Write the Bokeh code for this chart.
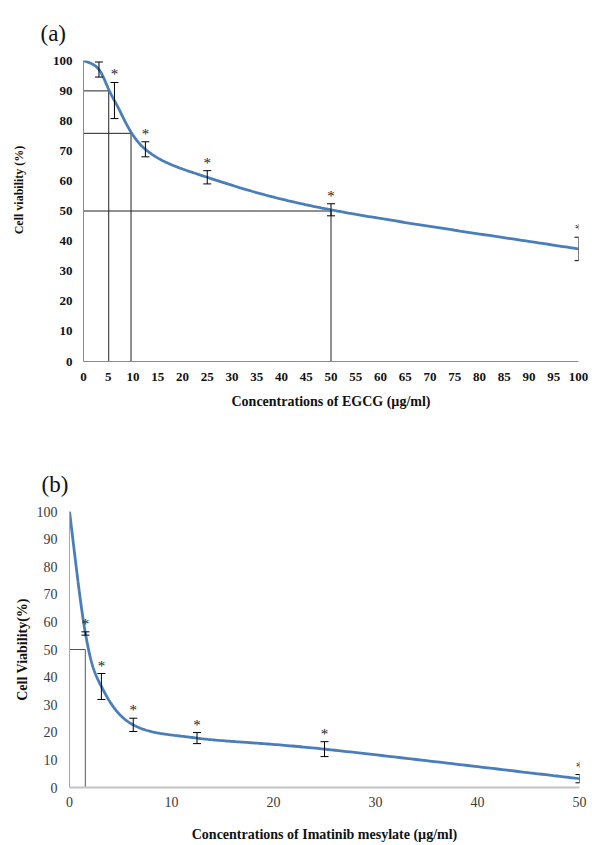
import numpy as np
from bokeh.plotting import figure
from bokeh.models import Range1d, FixedTicker, ColumnDataSource, LabelSet, Title
from bokeh.embed import file_html
from bokeh.resources import INLINE
from bokeh.core.properties import value

# ---------------- data (a): EGCG ----------------
conc_a = [0, 3.125, 6.25, 12.5, 25, 50, 100]
via_a = [100, 97.0, 86.7, 70.5, 61.2, 50.4, 37.4]
err_a = [0, 2.5, 6.0, 2.5, 2.2, 2.0, 3.9]
sig_a = [False, False, True, True, True, True, True]
ticks_a_x = [0, 5, 10, 15, 20, 25, 30, 35, 40, 45, 50, 55, 60, 65, 70, 75, 80, 85, 90, 95, 100]
ticks_a_y = [0, 10, 20, 30, 40, 50, 60, 70, 80, 90, 100]
ic_a_x = [5.1, 9.6, 50]
ic_a_y = [89.9, 75.8, 50]

# ---------------- data (b): Imatinib mesylate ----------------
conc_b = [0, 1.5625, 3.125, 6.25, 12.5, 25, 50]
via_b = [100, 55.8, 36.6, 22.7, 17.9, 13.9, 3.2]
err_b = [0, 0.6, 4.7, 2.4, 2.0, 2.7, 1.5]
sig_b = [False, True, True, True, True, True, True]
ticks_b_x = [0, 10, 20, 30, 40, 50]
ticks_b_y = [0, 10, 20, 30, 40, 50, 60, 70, 80, 90, 100]
ic_b_x = [1.55]
ic_b_y = [50]

SERIF = "Liberation Serif"
BLUE = "#4A7EBB"
NB = "\u00a0"


def excel_smooth(xs, ys, sx, sy, n=60):
    """Excel-style smoothed line (Catmull-Rom Bezier) computed in screen space."""
    P = [np.array([x * sx, y * sy], dtype=float) for x, y in zip(xs, ys)]
    ox, oy = [], []
    m = len(P)
    for i in range(m - 1):
        p0 = P[i - 1] if i > 0 else P[i]
        p1, p2 = P[i], P[i + 1]
        p3 = P[i + 2] if i + 2 < m else P[i + 1]
        c1 = p1 + (p2 - p0) / 6.0
        c2 = p2 - (p3 - p1) / 6.0
        ts = np.linspace(0, 1, n, endpoint=(i == m - 2))
        for t in ts:
            b = ((1 - t) ** 3) * p1 + 3 * ((1 - t) ** 2) * t * c1 + 3 * (1 - t) * t * t * c2 + (t ** 3) * p2
            ox.append(b[0] / sx)
            oy.append(b[1] / sy)
    return ox, oy


def panel(conc, via, err, sig, xt, yt, icx, icy, xmax, W, H, L, R, T, B,
          xlabel, ylabel, tag, tag_dx, tag_standoff, bold_ticks, tick_color,
          xaxis_color, xaxis_width, yaxis_color, ref_color,
          ylab_standoff, ytitle_standoff, xlab_standoff, xtitle_standoff,
          ytitle_size, xtitle_size, tick_size):
    p = figure(width=W, height=H, output_backend="svg", toolbar_location=None,
               x_range=Range1d(0, xmax), y_range=Range1d(0, 100),
               min_border_left=L, min_border_right=R, min_border_top=T, min_border_bottom=B)
    p.outline_line_color = None
    p.xgrid.grid_line_color = None
    p.ygrid.grid_line_color = None
    p.background_fill_color = "white"
    p.border_fill_color = "white"

    p.title = Title(text=tag, align="left", offset=tag_dx, standoff=tag_standoff,
                    text_font=SERIF, text_font_size="23px", text_font_style="normal",
                    text_color="#111111")

    for ax, ticks in ((p.xaxis, xt), (p.yaxis, yt)):
        ax.ticker = FixedTicker(ticks=ticks)
        ax.major_tick_line_color = None
        ax.minor_tick_line_color = None
        ax.major_tick_in = 0
        ax.major_tick_out = 0
        ax.minor_tick_in = 0
        ax.minor_tick_out = 0
        ax.major_label_text_font = SERIF
        ax.major_label_text_font_size = tick_size
        ax.major_label_text_font_style = "bold" if bold_ticks else "normal"
        ax.major_label_text_color = tick_color
        ax.axis_label_text_font = SERIF
        ax.axis_label_text_font_style = "bold"
        ax.axis_label_text_color = "#111111"
    p.xaxis.axis_line_color = xaxis_color
    p.xaxis.axis_line_width = xaxis_width
    p.yaxis.axis_line_color = yaxis_color
    p.yaxis.axis_line_width = 1
    p.xaxis.axis_label = xlabel
    p.yaxis.axis_label = ylabel
    p.xaxis.axis_label_text_font_size = xtitle_size
    p.yaxis.axis_label_text_font_size = ytitle_size
    p.yaxis.major_label_standoff = ylab_standoff
    p.yaxis.axis_label_standoff = ytitle_standoff
    p.xaxis.major_label_standoff = xlab_standoff
    p.xaxis.axis_label_standoff = xtitle_standoff

    # reference (IC) lines
    n = len(icx)
    p.segment(x0=[0] * n, y0=icy, x1=icx, y1=icy, line_color=ref_color, line_width=1)
    p.segment(x0=icx, y0=[0] * n, x1=icx, y1=icy, line_color=ref_color, line_width=1)

    # smoothed curve
    fw = W - L - R
    fh = H - T - B
    sx = fw / xmax
    sy = fh / 100.0
    cx, cy = excel_smooth(conc, via, sx, sy)
    p.line(cx, cy, line_color=BLUE, line_width=2.8)

    # error bars
    ex = [c for c, e in zip(conc, err) if e > 0]
    lo = [v - e for v, e in zip(via, err) if e > 0]
    hi = [v + e for v, e in zip(via, err) if e > 0]
    p.segment(x0=ex, y0=lo, x1=ex, y1=hi, line_color="black", line_width=1)
    p.dash(x=ex + ex, y=lo + hi, size=8, angle=0, line_color="black", line_width=1)

    # significance asterisks
    sxs = [c for c, s in zip(conc, sig) if s]
    sys_ = [v + e for v, e, s in zip(via, err, sig) if s]
    src = ColumnDataSource(dict(x=sxs, y=sys_, t=["*"] * len(sxs)))
    p.add_layout(LabelSet(x="x", y="y", text="t", source=src, y_offset=8,
                          text_align="center", text_baseline="middle",
                          text_font=value(SERIF), text_font_size="15px",
                          text_color="#222222"))
    return p


pa = panel(conc_a, via_a, err_a, sig_a, ticks_a_x, ticks_a_y, ic_a_x, ic_a_y, 100,
           W=592, H=425, L=83, R=14, T=60, B=64,
           xlabel="Concentrations of EGCG (\u00b5g/ml)",
           ylabel=NB * 14 + "Cell viability (%)",
           tag="(a)", tag_dx=-43, tag_standoff=30, bold_ticks=True, tick_color="#111111",
           xaxis_color="#8a8a8a", xaxis_width=1.2, yaxis_color="#8a8a8a", ref_color="#222222",
           ylab_standoff=11, ytitle_standoff=24, xlab_standoff=11, xtitle_standoff=10,
           ytitle_size="12px", xtitle_size="14px", tick_size="13px")

pb = panel(conc_b, via_b, err_b, sig_b, ticks_b_x, ticks_b_y, ic_b_x, ic_b_y, 50,
           W=592, H=419, L=69, R=13, T=86, B=55,
           xlabel="Concentrations of Imatinib mesylate (\u00b5g/ml)", ylabel="Cell Viability(%)",
           tag="(b)", tag_dx=-28, tag_standoff=30, bold_ticks=False, tick_color="#3a3a3a",
           xaxis_color="#c4c4c4", xaxis_width=2, yaxis_color="#a8a8a8", ref_color="#555555",
           ylab_standoff=12, ytitle_standoff=4, xlab_standoff=9, xtitle_standoff=17,
           ytitle_size="14px", xtitle_size="14px", tick_size="14px")

open("out.html", "w").write(file_html([pa, pb], INLINE))
